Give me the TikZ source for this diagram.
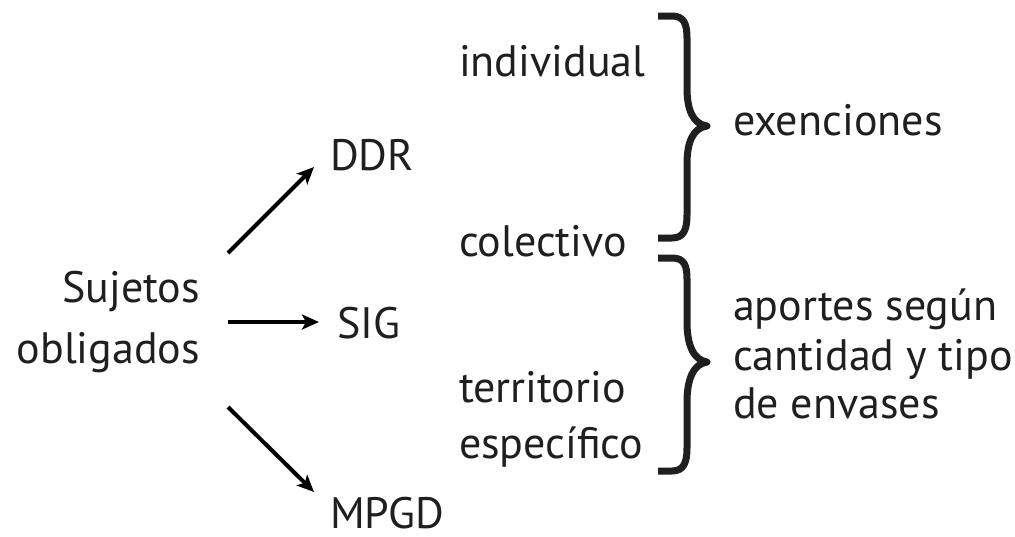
\documentclass[tikz,border=0pt]{standalone}
\usepackage{fontspec}
\setmainfont{PT Sans}
\usetikzlibrary{arrows.meta}
\begin{document}
\begin{tikzpicture}[x=1pt,y=-1pt,
  txt/.style={font=\fontsize{44}{52}\selectfont, inner sep=0pt, outer sep=0pt, text=black!88},
  arr/.style={line width=4pt, -{Stealth[length=17pt,width=15pt,inset=4pt]}},
  brace/.style={line width=7pt, line join=round, draw=black!88}]
\useasboundingbox[fill=white] (0,0) rectangle (1015,536);
% left group
\node[txt, anchor=base east] (suj1) at (200,302) {Sujetos};
\node[txt, anchor=base east] (suj2) at (200,363) {obligados};
\node[txt, anchor=base west] (ddr) at (330,170) {DDR};
\node[txt, anchor=base west] (sig) at (337,338) {SIG};
\node[txt, anchor=base west] (mpgd) at (330,528) {MPGD};
% middle
\node[txt, anchor=base west] (ind) at (459,76) {individual};
\node[txt, anchor=base west] (col) at (459,256) {colectivo};
\node[txt, anchor=base west] (ter1) at (459,402) {territorio};
\node[txt, anchor=base west] (ter2) at (459,458) {específico};
% right
\node[txt, anchor=base west] (exe) at (733,135) {exenciones};
\node[txt, anchor=base west] (apo1) at (733,320) {aportes según};
\node[txt, anchor=base west] (apo2) at (733,370) {cantidad y tipo};
\node[txt, anchor=base west] (apo3) at (733,418) {de envases};
% arrows
\coordinate (a1s) at (228,253);
\coordinate (a1e) at (314,167);
\coordinate (a2s) at (228,322);
\coordinate (a2e) at (319,322);
\coordinate (a3s) at (228,407);
\coordinate (a3e) at (314,492);
\draw[arr] (a1s) -- (a1e);
\draw[arr] (a2s) -- (a2e);
\draw[arr] (a3s) -- (a3e);
% braces
\draw[brace] (658,16) -- (672,16) .. controls (684,16) and (687,24) .. (687,38)
  -- (687,88) .. controls (687,110) and (693,124) .. (707,126)
  .. controls (693,128) and (687,142) .. (687,164)
  -- (687,215) .. controls (687,229) and (684,238) .. (672,238) -- (658,238);
\draw[brace] (658,258) -- (672,258) .. controls (684,258) and (687,265) .. (687,279)
  -- (687,322) .. controls (687,344) and (693,360) .. (707,362)
  .. controls (693,364) and (687,380) .. (687,402)
  -- (687,448) .. controls (687,462) and (684,471) .. (672,471) -- (658,471);
\end{tikzpicture}
\end{document}
